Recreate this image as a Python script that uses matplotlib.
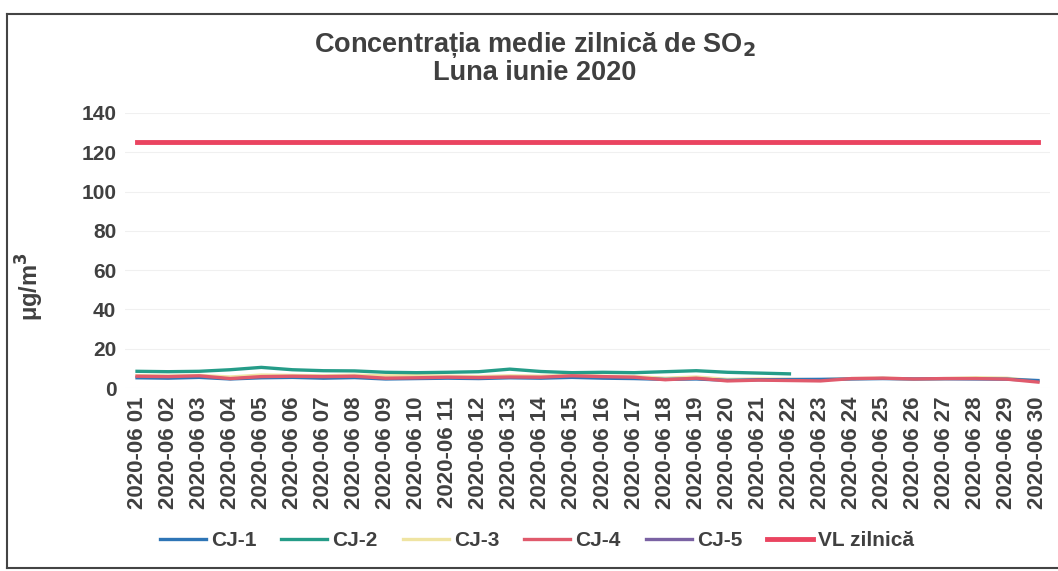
import matplotlib
matplotlib.use("Agg")
import matplotlib.pyplot as plt
from matplotlib.lines import Line2D

plt.rcParams['font.family'] = ['Liberation Sans', 'DejaVu Sans']

dates = ["2020-06 %02d" % d for d in range(1, 31)]

cj1 = [5.2, 5.0, 5.4, 4.6, 5.2, 5.4, 5.0, 5.3, 4.6, 4.8, 5.0, 4.8, 5.2, 5.0, 5.4,
       5.0, 4.8, 4.4, 4.6, 3.9, 4.2, 4.3, 4.4, 4.6, 4.8, 4.6, 4.7, 4.6, 4.5, 3.8]
cj2 = [8.5, 8.3, 8.5, 9.3, 10.5, 9.3, 8.8, 8.7, 8.0, 7.8, 8.0, 8.3, 9.6, 8.4, 7.8,
       8.0, 7.8, 8.3, 8.8, 8.0, 7.6, 7.2]
cj3 = [6.3, 6.1, 6.4, 5.6, 6.6, 6.4, 6.2, 6.5, 6.2, 6.3, 6.0, 5.8, 6.2, 6.0, 6.4,
       6.0, 5.8, 5.0, 5.6, 4.4, 4.6, 4.4, 4.2, 4.8, 5.0, 4.6, 4.8, 5.2, 5.0, 3.4]
cj4 = [6.0, 5.8, 6.2, 4.8, 5.8, 6.0, 5.8, 6.0, 5.0, 5.2, 5.5, 5.3, 5.6, 5.5, 6.2,
       5.8, 5.5, 4.2, 5.0, 3.6, 4.0, 3.8, 3.6, 4.8, 5.0, 4.6, 4.8, 4.8, 4.5, 3.0]
cj5 = []
vl = [125] * 30

yticks = [0, 20, 40, 60, 80, 100, 120, 140]

W, H = 1058, 571
fig = plt.figure(figsize=(W / 100, H / 100), dpi=100)
ax = fig.add_axes([124.6 / W, 1 - 388 / H, 925.8 / W, 275 / H])

x = list(range(len(dates)))
txt = '#404040'

ax.plot(x, cj3, color='#efe4a2', lw=2.4, label='CJ-3', zorder=2)
ax.plot(x, cj1, color='#2e75b6', lw=2.4, label='CJ-1', zorder=3)
ax.plot(x[:len(cj2)], cj2, color='#259c88', lw=2.4, label='CJ-2', zorder=4)
ax.plot(x, cj4, color='#e05a6c', lw=2.4, label='CJ-4', zorder=5)
ax.plot(x[:len(cj5)], cj5, color='#7a62a3', lw=2.4, label='CJ-5', zorder=6)
ax.plot(x, vl, color='#ea4460', lw=3.5, label='VL zilnică', zorder=7)

ax.set_xlim(-0.4, len(dates) - 0.6)
ax.set_ylim(0, 140)
ax.set_yticks(yticks)
ax.set_yticklabels([str(v) for v in yticks], fontsize=15, fontweight='bold', color=txt)
ax.set_xticks(x)
ax.set_xticklabels(dates, rotation=90, fontsize=16, fontweight='bold', color=txt)
ax.tick_params(axis='both', length=0, pad=6)
for s in ax.spines.values():
    s.set_visible(False)
ax.grid(axis='y', color='#f0f0f0', lw=0.8)
ax.set_axisbelow(True)

ax.set_ylabel('μg/m$^\\mathbf{3}$', fontsize=17, fontweight='bold', color=txt)
ax.yaxis.set_label_coords(46 / W - 124.6 / W, 0.37, transform=None)
ax.yaxis.label.set_position((0, 0.37))
ax.yaxis.set_label_coords((46 - 124.6) / 925.8, 0.37)

fig.text(535 / W, 1 - 45 / H, 'Concentrația medie zilnică de SO$_\\mathbf{2}$',
         ha='center', va='center', fontsize=19.5, fontweight='bold', color=txt)
fig.text(535 / W, 1 - 73 / H, 'Luna iunie 2020',
         ha='center', va='center', fontsize=19.5, fontweight='bold', color=txt)

handles, labels = ax.get_legend_handles_labels()
order = ['CJ-1', 'CJ-2', 'CJ-3', 'CJ-4', 'CJ-5', 'VL zilnică']
hmap = dict(zip(labels, handles))
leg = fig.legend([hmap[k] for k in order], order, loc='center',
                 bbox_to_anchor=(537 / W, 1 - 541 / H), ncol=6, frameon=False,
                 prop={'size': 15, 'weight': 'bold'}, handlelength=2.2,
                 handletextpad=0.25, columnspacing=1.2)
for t in leg.get_texts():
    t.set_color(txt)

frame = '#444444'
fig.add_artist(Line2D([7 / W, 7 / W], [1 - 568 / H, 1 - 14 / H], transform=fig.transFigure,
                      color=frame, lw=1.5))
fig.add_artist(Line2D([7 / W, 1.0], [1 - 14 / H, 1 - 14 / H], transform=fig.transFigure,
                      color=frame, lw=1.5))
fig.add_artist(Line2D([7 / W, 1.0], [1 - 568 / H, 1 - 568 / H], transform=fig.transFigure,
                      color=frame, lw=1.5))

fig.savefig('out.png', dpi=100)
